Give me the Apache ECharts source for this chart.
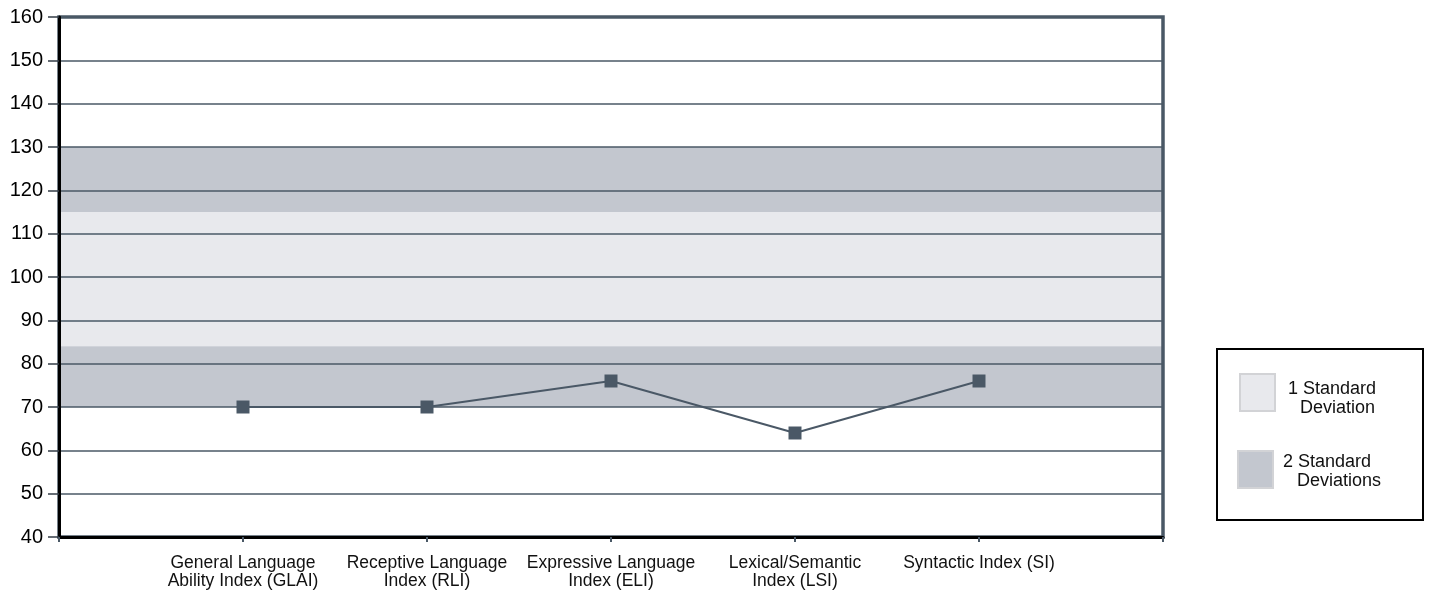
<!DOCTYPE html>
<html>
<head>
<meta charset="utf-8">
<script src="https://cdn.jsdelivr.net/npm/echarts@6/dist/echarts.min.js"></script>
<style>html,body{margin:0;padding:0;background:#fff;}#c{width:1429px;height:591px;}</style>
</head>
<body>
<div id="c"></div>
<script>
const categories = ['', 'General Language\nAbility Index (GLAI)', 'Receptive Language\nIndex (RLI)', 'Expressive Language\nIndex (ELI)', 'Lexical/Semantic\nIndex (LSI)', 'Syntactic Index (SI)', ''];
const scores = [null, 70, 70, 76, 64, 76, null];
const oneSD = [[84, 115]];
const twoSD = [[115, 130], [70, 84]];
const yMin = 40, yMax = 160, yStep = 10;

const slate = '#4a5866';
const light = '#e8e9ed';
const dark = '#c3c7cf';

const chart = echarts.init(document.getElementById('c'));
const band = (ranges, color) => ranges.map(r => [{yAxis: r[0], itemStyle: {color: color}}, {yAxis: r[1]}]);

chart.setOption({
  animation: false,
  grid: {left: 59, right: 266, top: 17, bottom: 54, show: true, borderColor: slate, borderWidth: 3.5, z: 2},
  xAxis: {
    type: 'category', data: categories, boundaryGap: false, z: 3,
    axisLine: {lineStyle: {color: '#000', width: 3}},
    axisTick: {show: true, length: 5, lineStyle: {color: slate, width: 2}, interval: 0},
    axisLabel: {interval: 0, color: '#111', fontFamily: 'Liberation Sans, Arial', fontSize: 17.5, lineHeight: 18, margin: 17},
    splitLine: {show: false}
  },
  yAxis: {
    type: 'value', min: yMin, max: yMax, interval: yStep, z: 3,
    axisLine: {show: true, lineStyle: {color: '#000', width: 3}},
    axisTick: {show: true, length: 11, lineStyle: {color: '#333d47', width: 1.5}},
    axisLabel: {color: '#000', fontFamily: 'Liberation Sans, Arial', fontSize: 20, margin: 16},
    splitLine: {show: true, lineStyle: {color: slate, width: 1.5}}
  },
  series: [
    {
      type: 'line', data: [], z: 0, silent: true,
      markArea: {silent: true, z: 0, data: band(oneSD, light).concat(band(twoSD, dark))}
    },
    {
      type: 'line', data: scores, z: 4,
      symbol: 'rect', symbolSize: 13, showAllSymbol: true,
      lineStyle: {color: slate, width: 2},
      itemStyle: {color: slate}
    }
  ],
  graphic: [
    {type: 'rect', shape: {x: 1217, y: 349, width: 206, height: 171}, style: {fill: '#fff', stroke: '#000', lineWidth: 2}},
    {type: 'rect', shape: {x: 1240, y: 374, width: 35, height: 37}, style: {fill: light, stroke: '#d2d3d6', lineWidth: 2}},
    {type: 'rect', shape: {x: 1238, y: 451, width: 35, height: 37}, style: {fill: dark, stroke: '#d2d3d6', lineWidth: 2}},
    {type: 'text', x: 1288, y: 389, style: {text: '1 Standard', fill: '#111', font: '18px Liberation Sans, Arial', textVerticalAlign: 'middle'}},
    {type: 'text', x: 1300, y: 408, style: {text: 'Deviation', fill: '#111', font: '18px Liberation Sans, Arial', textVerticalAlign: 'middle'}},
    {type: 'text', x: 1283, y: 462, style: {text: '2 Standard', fill: '#111', font: '18px Liberation Sans, Arial', textVerticalAlign: 'middle'}},
    {type: 'text', x: 1297, y: 481, style: {text: 'Deviations', fill: '#111', font: '18px Liberation Sans, Arial', textVerticalAlign: 'middle'}}
  ]
});
</script>
</body>
</html>
